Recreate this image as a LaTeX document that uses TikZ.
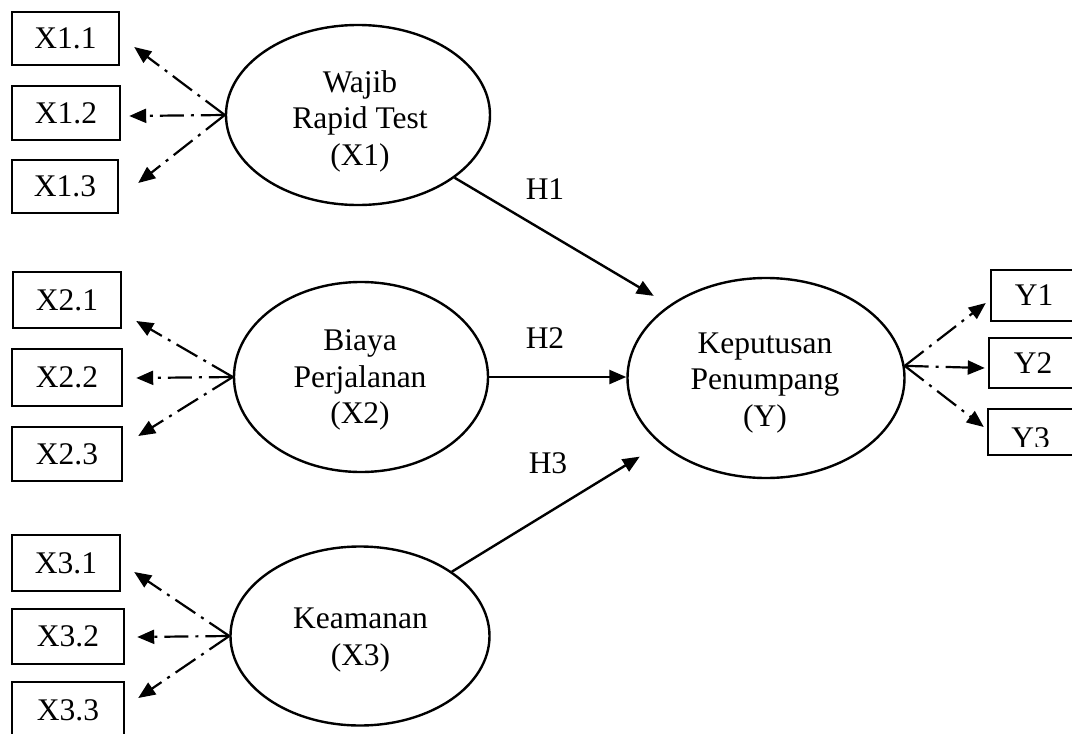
\documentclass[tikz,border=0pt]{standalone}
\usepackage{fontspec}
\setmainfont{Liberation Serif}
\usetikzlibrary{arrows.meta,shapes.geometric,calc}
\tikzset{
  lat/.style={ellipse, draw, line width=2.4pt, inner sep=0pt},
  ind/.style={rectangle, draw, line width=2.4pt, inner sep=0pt},
  lbl/.style={align=center, inner sep=0pt},
  hyp/.style={-{Triangle[length=17pt,width=14pt]}, line width=2.4pt},
  refl/.style={-{Triangle[length=17pt,width=14pt]}, line width=2.2pt, dash pattern=on 24pt off 7pt on 3pt off 7pt},
}
\begin{document}
\begin{tikzpicture}[x=1pt,y=-1pt,font=\fontsize{31.5}{36.5}\selectfont]
\useasboundingbox (0,0) rectangle (1072,734);
\fill[white] (0,0) rectangle (1072,734);
\clip (0,0) rectangle (1072,734);

% indicator boxes X1
\node[ind, minimum width=107pt, minimum height=53pt] (x11) at (65.5,38.5) {X1.1};
\node[ind, minimum width=108pt, minimum height=54pt] (x12) at (66,113) {X1.2};
\node[ind, minimum width=106pt, minimum height=53pt] (x13) at (65,186.5) {X1.3};
% X2
\node[ind, minimum width=108pt, minimum height=56pt] (x21) at (67,300) {X2.1};
\node[ind, minimum width=110pt, minimum height=57pt] (x22) at (67,377.5) {X2.2};
\node[ind, minimum width=110pt, minimum height=54pt] (x23) at (67,454) {X2.3};
% X3
\node[ind, minimum width=108pt, minimum height=56pt] (x31) at (66,563) {X3.1};
\node[ind, minimum width=112pt, minimum height=55pt] (x32) at (68,636.5) {X3.2};
\node[ind, minimum width=112pt, minimum height=56pt] (x33) at (68,710) {X3.3};
% Y
\node[ind, minimum width=86pt, minimum height=51pt] (y1) at (1034,295.5) {Y1};
\node[ind, minimum width=88pt, minimum height=50pt] (y2) at (1033,363) {Y2};
\node[ind, minimum width=89pt, minimum height=46pt] (y3) at (1032.5,432) {};
\begin{scope}
  \clip ($(y3.north west)+(2,2)$) rectangle ($(y3.south east)+(-2,-10)$);
  \node[inner sep=0pt] (y3t) at ($(y3)+(-2,6)$) {Y3};
\end{scope}

% latent variables
\node[lat, minimum width=264pt, minimum height=180pt] (x1) at (358,115) {};
\node[lbl] (x1t) at (360,121) {Wajib\\Rapid Test\\(X1)};
\node[lat, minimum width=254pt, minimum height=190pt] (x2) at (361,377) {};
\node[lbl] (x2t) at (360,380) {Biaya\\Perjalanan\\(X2)};
\node[lat, minimum width=259pt, minimum height=179pt] (x3) at (360,636) {};
\node[lbl] (x3t) at (360.5,640) {Keamanan\\(X3)};
\node[lat, minimum width=277pt, minimum height=200pt] (y) at (766,378) {};
\node[lbl] (yt) at (765,383) {Keputusan\\Penumpang\\(Y)};

% reflective indicators
\draw[refl] (x1.west) -- ($(x11.east)+(14,8.5)$);
\draw[refl] (x1.west) -- ($(x12.east)+(8,3)$);
\draw[refl] (x1.west) -- ($(x13.east)+(19,-3.5)$);
\draw[refl] (x2.west) -- ($(x21.east)+(14,21)$);
\draw[refl] (x2.west) -- ($(x22.east)+(13,0.5)$);
\draw[refl] (x2.west) -- ($(x23.east)+(15,-18)$);
\draw[refl] (x3.west) -- ($(x31.east)+(13,9)$);
\draw[refl] (x3.west) -- ($(x32.east)+(12,0.5)$);
\draw[refl] (x3.west) -- ($(x33.east)+(13,-12)$);
\draw[refl] (y.5) -- ($(y1.west)+(-4,7.5)$);
\draw[refl] (y.5) -- ($(y2.west)+(-3,5)$);
\draw[refl] (y.5) -- ($(y3.west)+(-3,-5)$);

% hypotheses
\draw[hyp, shorten >=18pt] (x1.-33) -- (y.143.5);
\draw[hyp] (x2.east) -- (x2.east -| y.west);
\draw[hyp, shorten >=24pt] (x3.35) -- (y.212.5);
\node[inner sep=0pt] (h1) at (545,189) {H1};
\node[inner sep=0pt] (h2) at (545,338) {H2};
\node[inner sep=0pt] (h3) at (548,463) {H3};
\end{tikzpicture}
\end{document}
